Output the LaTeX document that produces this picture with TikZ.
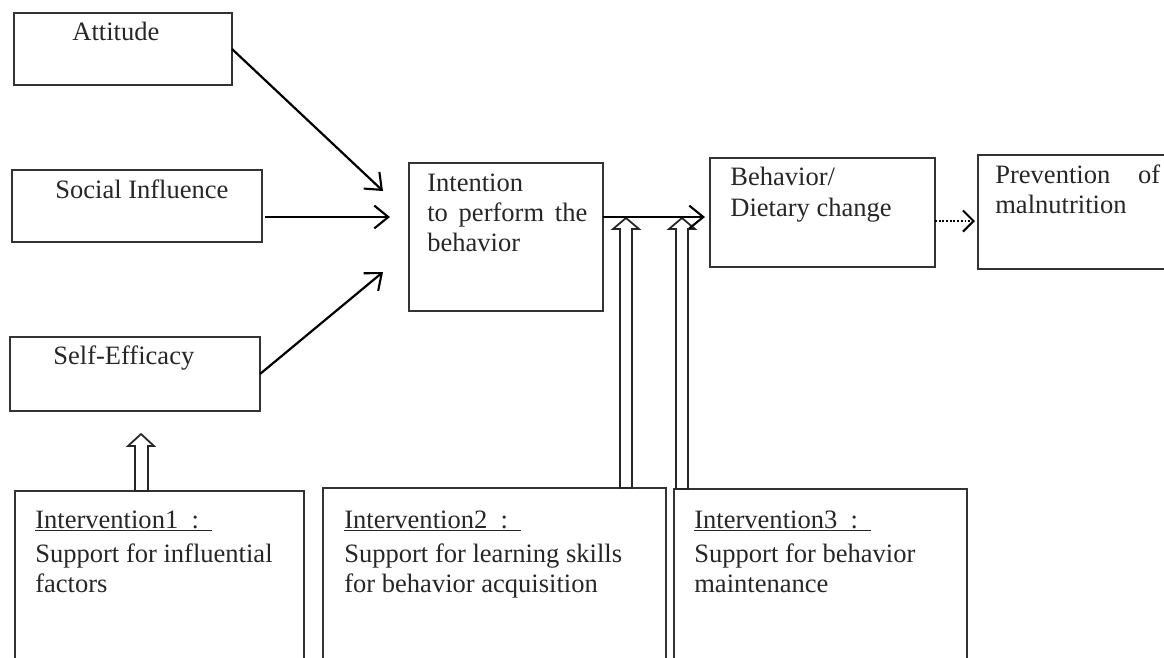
\documentclass[tikz,border=0pt]{standalone}
\usepackage{fontspec}
\setmainfont{Liberation Serif}
\usetikzlibrary{arrows.meta}
\tikzset{
  box/.style={draw=black!80, line width=1.15pt, inner sep=0pt, outer sep=0pt, anchor=north west},
  lbl/.style={inner sep=0pt, anchor=base west, text=black!85, font=\fontsize{15.1}{17.5}\selectfont},
  conn/.style={line width=1.25pt, -{Straight Barb[length=8pt,width=13pt,line width=1.2pt]}},
  dotconn/.style={line width=1.2pt, dash pattern=on 1.1pt off 1pt, -{Straight Barb[length=6pt,width=12pt,line width=1.2pt,sep=0pt]}},
  hollow/.style={draw=black!85, line width=1pt, fill=white, line join=miter},
}
\newcommand\mybox[5]{\node[box, minimum width={(#4-#2)*0.02cm}, minimum height={(#5-#3)*0.02cm}] (#1) at (#2,#3) {};}
\begin{document}
\begin{tikzpicture}[x=0.02cm,y=-0.02cm]
\useasboundingbox (0,0) rectangle (1164,657);
\clip (0,0) rectangle (1164,657);
% boxes
\mybox{att}{14}{13}{232}{85}
\mybox{soc}{12}{170}{262}{242}
\mybox{self}{10}{337}{260}{411}
\mybox{int}{409}{163}{603}{311}
\mybox{beh}{710}{158}{935}{267}
\mybox{prev}{978}{155}{1185}{269}
\mybox{iv1}{15}{491}{304}{690}
\mybox{iv2}{323}{488}{666}{690}
\mybox{iv3}{674}{489}{967}{690}
% labels
\node[lbl] (attL) at (72,40) {Attitude};
\node[lbl] (socL) at (55,198) {Social Influence};
\node[lbl] (selfL) at (53,364) {Self-Efficacy};
\node[lbl] (intL1) at (427,191) {Intention};
\node[lbl] (intL2) at (427,221) {\makebox[3.2cm][s]{to perform the}};
\node[lbl] (intL3) at (427,251) {behavior};
\node[lbl] (behL1) at (730,185) {Behavior/};
\node[lbl] (behL2) at (730,216) {Dietary change};
\node[lbl] (prevL1) at (995,183) {\makebox[3.3cm][s]{Prevention of}};
\node[lbl] (prevL2) at (995,213) {malnutrition};
\node[lbl] (iv1a) at (35,528) {\underline{Intervention1\ \ :\ \ }};
\node[lbl] (iv1b) at (35,562) {Support for influential};
\node[lbl] (iv1c) at (35,592) {factors};
\node[lbl] (iv2a) at (344,528) {\underline{Intervention2\ \ :\ \ }};
\node[lbl] (iv2b) at (344,562) {Support for learning skills};
\node[lbl] (iv2c) at (344,592) {for behavior acquisition};
\node[lbl] (iv3a) at (694,528) {\underline{Intervention3\ \ :\ \ }};
\node[lbl] (iv3b) at (694,562) {Support for behavior};
\node[lbl] (iv3c) at (694,592) {maintenance};
% connector end points
\coordinate (t1) at (383,191);
\coordinate (t2) at (390,217);
\coordinate (s2) at (265,217);
\coordinate (t3) at (383,272);
\coordinate (d) at (0,221);
% hollow arrows
\draw[hollow] (135,491) -- (135,446) -- (128,446) -- (141,434) -- (154,446) -- (148,446) -- (148,491) -- cycle;
\draw[hollow] (620,488) -- (620,229) -- (613,229) -- (626,218) -- (639,229) -- (632,229) -- (632,488) -- cycle;
\draw[hollow] (676,489) -- (676,229) -- (669,229) -- (682,218) -- (695,229) -- (688,229) -- (688,489) -- cycle;
% connectors
\draw[conn] (att.east) -- (t1);
\draw[conn] (s2) -- (t2);
\draw[conn] (self.east) -- (t3);
\draw[conn] (int.east |- t2) -- ([xshift=-0.1cm]beh.west |- t2);
\draw[dotconn] (beh.east |- d) -- ([xshift=-0.06cm]prev.west |- d);
\end{tikzpicture}
\end{document}
